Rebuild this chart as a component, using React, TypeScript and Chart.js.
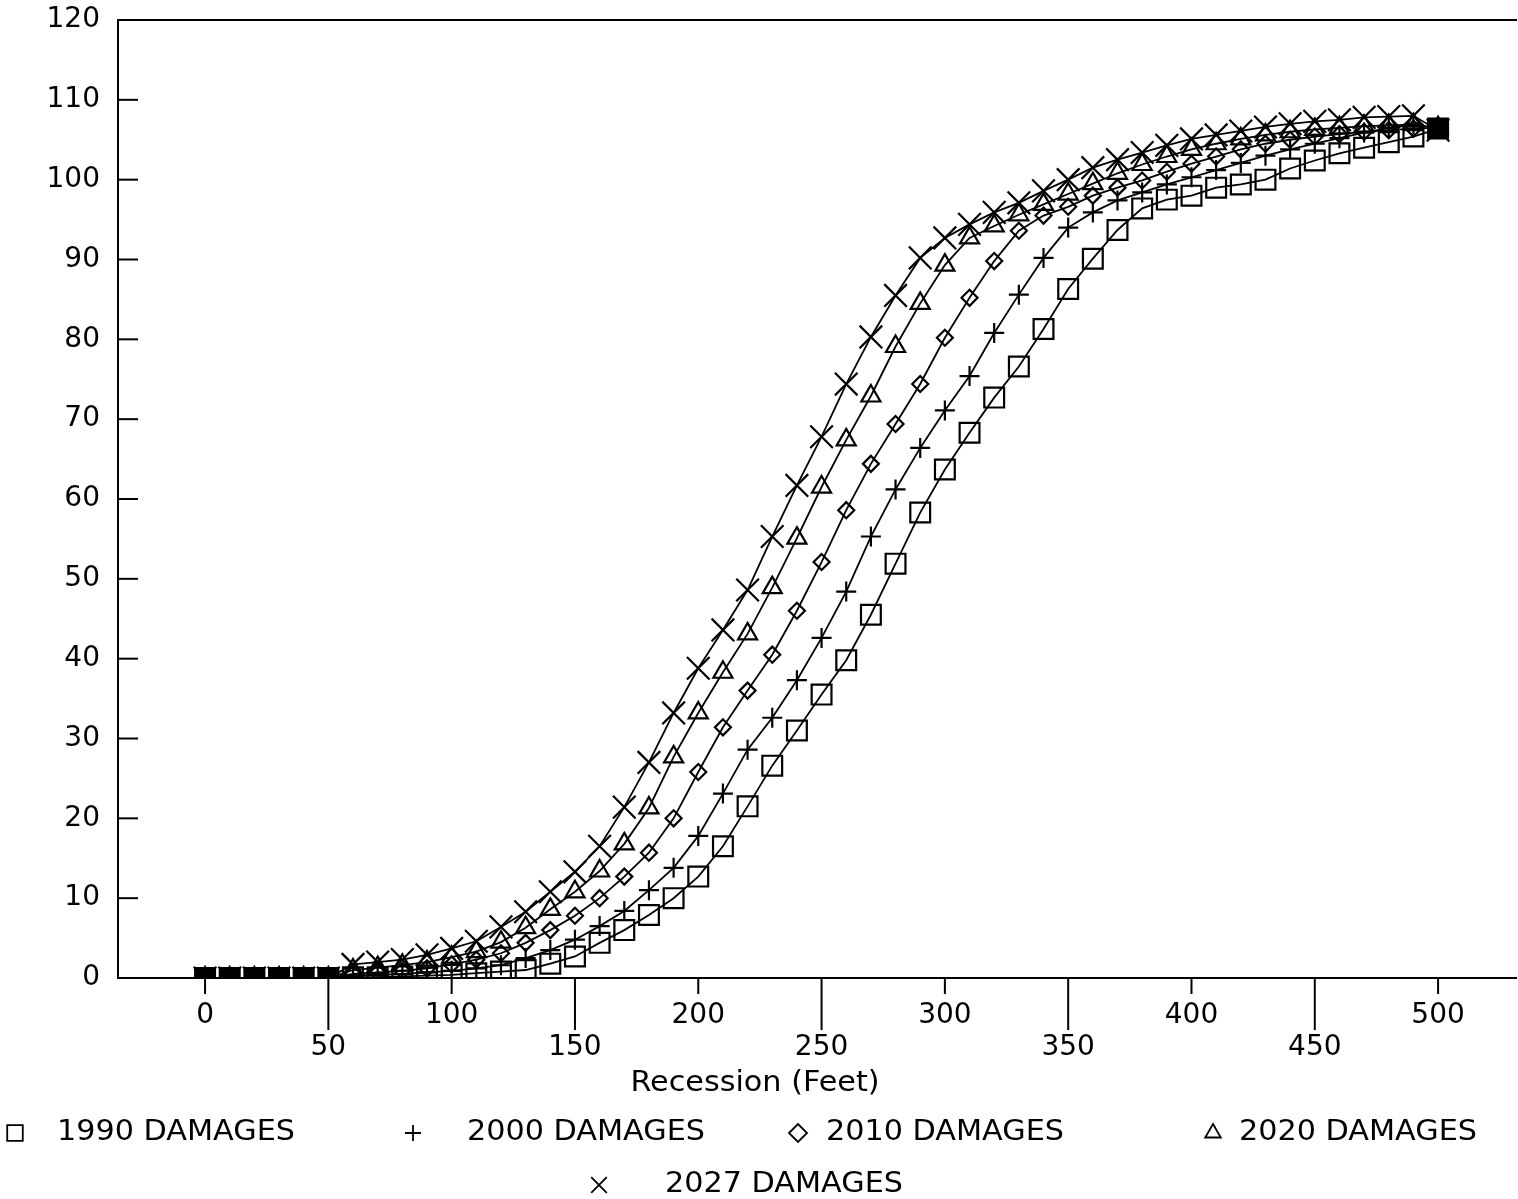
import React, { useEffect, useRef } from "react";
import { Chart, registerables } from "chart.js";
import { drawPoint } from "chart.js/helpers";

Chart.register(...registerables);

const recessionFeet = [
  0, 10, 20, 30, 40, 50, 60, 70, 80, 90, 100, 110, 120, 130, 140, 150, 160, 170, 180, 190, 200,
  210, 220, 230, 240, 250, 260, 270, 280, 290, 300, 310, 320, 330, 340, 350, 360, 370, 380, 390,
  400, 410, 420, 430, 440, 450, 460, 470, 480, 490, 500,
];

const damages1990 = [
  0, 0, 0, 0, 0, 0,
  0.1, 0.1, 0.2, 0.3, 0.4,
  0.6, 0.8, 1.0, 1.8, 2.7,
  4.4, 6.0, 7.9, 10.0, 12.7,
  16.5, 21.5, 26.6, 31.0, 35.5,
  39.8, 45.5, 51.9, 58.3, 63.7,
  68.3, 72.7, 76.6, 81.3, 86.3,
  90.1, 93.7, 96.4, 97.5, 98.0,
  99.0, 99.4, 100.0, 101.4, 102.4,
  103.3, 104.0, 104.7, 105.4, 106.4,
];

const damages2000 = [
  0, 0, 0, 0, 0, 0,
  0.3, 0.4, 0.5, 0.7, 0.9,
  1.2, 1.6, 2.5, 3.5, 4.8,
  6.5, 8.4, 11.0, 13.8, 17.8,
  23.1, 28.6, 32.6, 37.3, 42.6,
  48.4, 55.3, 61.2, 66.4, 71.1,
  75.4, 80.8, 85.6, 90.2, 94.0,
  95.9, 97.4, 98.4, 99.4, 100.3,
  101.2, 102.1, 103.0, 103.8, 104.5,
  105.2, 105.9, 106.5, 106.9, 106.4,
];

const damages2010 = [
  0, 0, 0, 0, 0, 0,
  0.5, 0.7, 0.9, 1.2, 1.7,
  2.3, 3.1, 4.4, 6.0, 7.8,
  10.0, 12.7, 15.7, 20.0, 25.8,
  31.4, 36.0, 40.5, 46.0, 52.1,
  58.6, 64.4, 69.4, 74.4, 80.2,
  85.2, 89.8, 93.6, 95.5, 96.6,
  98.0, 99.0, 99.9, 101.0, 102.0,
  102.9, 103.8, 104.5, 105.0, 105.4,
  105.7, 106.0, 106.2, 106.4, 106.5,
];

const damages2020 = [
  0, 0, 0, 0, 0, 0,
  1.0, 1.3, 1.6, 2.0, 2.6,
  3.3, 4.5, 6.3, 8.6, 10.8,
  13.4, 16.8, 21.3, 27.7, 33.2,
  38.3, 43.1, 48.9, 55.1, 61.5,
  67.4, 72.9, 79.1, 84.5, 89.3,
  92.7, 94.2, 95.6, 96.9, 98.2,
  99.5, 100.8, 101.9, 102.9, 103.8,
  104.5, 105.1, 105.6, 106.0, 106.3,
  106.5, 106.7, 106.8, 106.9, 106.5,
];

const damages2027 = [
  0, 0, 0, 0, 0, 0,
  1.7, 2.0, 2.3, 2.9, 3.7,
  4.6, 6.4, 8.3, 10.8, 13.3,
  16.5, 21.4, 27.0, 33.2, 38.8,
  43.6, 48.6, 55.3, 61.7, 67.8,
  74.4, 80.3, 85.5, 90.2, 92.7,
  94.4, 95.9, 97.1, 98.6, 100.0,
  101.5, 102.5, 103.4, 104.3, 105.1,
  105.6, 106.1, 106.6, 107.0, 107.3,
  107.5, 107.8, 107.9, 108.0, 106.2,
];

const seriesLabels = ["1990 DAMAGES", "2000 DAMAGES", "2010 DAMAGES", "2020 DAMAGES", "2027 DAMAGES"];
const xTickValues = [0, 50, 100, 150, 200, 250, 300, 350, 400, 450, 500];
const yTickValues = [0, 10, 20, 30, 40, 50, 60, 70, 80, 90, 100, 110, 120];
const xAxisTitle = "Recession (Feet)";

const FONT = '28px "DejaVu Sans", "Liberation Sans", sans-serif';

export default function App() {
  const canvasRef = useRef<HTMLCanvasElement>(null);

  useEffect(() => {
    document.body.style.margin = "0";
    const canvas = canvasRef.current;
    if (!canvas) return;

    const toPts = (arr: number[]) => recessionFeet.map((x, i) => ({ x, y: arr[i] }));

    const styles = [
      { pointStyle: "rect", pointRadius: 14, legendRadius: 11 },
      { pointStyle: "cross", pointRadius: 10, legendRadius: 8 },
      { pointStyle: "rectRot", pointRadius: 8, legendRadius: 9 },
      { pointStyle: "triangle", pointRadius: 11, legendRadius: 9 },
      { pointStyle: "crossRot", pointRadius: 16, legendRadius: 11 },
    ];
    const values = [damages1990, damages2000, damages2010, damages2020, damages2027];

    const datasets = values.map((arr, i) => ({
      label: seriesLabels[i],
      data: toPts(arr),
      showLine: true,
      borderColor: "#000",
      borderWidth: 1.8,
      tension: 0,
      pointStyle: styles[i].pointStyle,
      pointRadius: styles[i].pointRadius,
      pointBorderWidth: 2.2,
      pointBorderColor: "#000",
      pointBackgroundColor:
        i === 0
          ? (c: any) => (c.raw && (c.raw.x <= 50 || c.raw.x >= 500) ? "#000" : "rgba(0,0,0,0)")
          : "rgba(0,0,0,0)",
    }));

    const stretchedText = (ctx: CanvasRenderingContext2D, text: string, x: number, y: number) => {
      ctx.save();
      ctx.translate(x, y);
      ctx.scale(1.08, 1);
      ctx.fillText(text, 0, 0);
      ctx.restore();
    };

    const framePlugin = {
      id: "frame",
      afterDraw(chart: any) {
        const ctx = chart.ctx as CanvasRenderingContext2D;
        const { left, right, top, bottom } = chart.chartArea;
        const xs = chart.scales.x;
        const ys = chart.scales.y;
        ctx.save();
        ctx.strokeStyle = "#000";
        ctx.fillStyle = "#000";
        ctx.lineWidth = 2;
        ctx.beginPath();
        ctx.moveTo(right, top);
        ctx.lineTo(left, top);
        ctx.lineTo(left, bottom);
        ctx.lineTo(right, bottom);
        ctx.stroke();

        ctx.font = FONT;
        ctx.textAlign = "right";
        ctx.textBaseline = "middle";
        yTickValues.forEach((v) => {
          const py = ys.getPixelForValue(v);
          ctx.beginPath();
          ctx.moveTo(left, py);
          ctx.lineTo(left + 20, py);
          ctx.stroke();
          ctx.fillText(String(v), left - 18, py);
        });

        ctx.textAlign = "center";
        xTickValues.forEach((v) => {
          const px = xs.getPixelForValue(v);
          const major = v % 100 === 0;
          ctx.beginPath();
          ctx.moveTo(px, bottom);
          ctx.lineTo(px, bottom + (major ? 16 : 52));
          ctx.stroke();
          ctx.fillText(String(v), px, bottom + (major ? 38 : 70));
        });

        stretchedText(ctx, xAxisTitle, 755, bottom + 106);

        // legend
        const legendPos = [
          { mx: 15, tx: 57, y: 1133 },
          { mx: 413, tx: 467, y: 1133 },
          { mx: 798, tx: 826, y: 1133 },
          { mx: 1213, tx: 1239, y: 1133 },
          { mx: 599, tx: 665, y: 1185 },
        ];
        ctx.textAlign = "left";
        chart.data.datasets.forEach((ds: any, i: number) => {
          const p = legendPos[i];
          ctx.lineWidth = 1.8;
          ctx.strokeStyle = "#000";
          ctx.fillStyle = "rgba(0,0,0,0)";
          drawPoint(
            ctx,
            { pointStyle: ds.pointStyle, radius: styles[i].legendRadius, rotation: 0, borderWidth: 1.8 } as any,
            p.mx,
            p.y
          );
          ctx.fillStyle = "#000";
          stretchedText(ctx, ds.label, p.tx, p.y);
        });
        ctx.restore();
      },
    };

    const chart = new Chart(canvas, {
      type: "scatter",
      data: { datasets: datasets as any },
      options: {
        animation: false,
        responsive: false,
        devicePixelRatio: 1,
        layout: { autoPadding: false, padding: { left: 118, top: 20, right: 1, bottom: 221 } },
        plugins: { legend: { display: false }, tooltip: { enabled: false }, title: { display: false } },
        scales: {
          x: { type: "linear", min: -35.3, max: 532, display: false },
          y: { type: "linear", min: 0, max: 120, display: false },
        },
      },
      plugins: [framePlugin],
    });
    return () => chart.destroy();
  }, []);

  return (
    <canvas
      ref={canvasRef}
      width={1518}
      height={1199}
      style={{ display: "block", width: 1518, height: 1199, background: "#fff" }}
    />
  );
}
